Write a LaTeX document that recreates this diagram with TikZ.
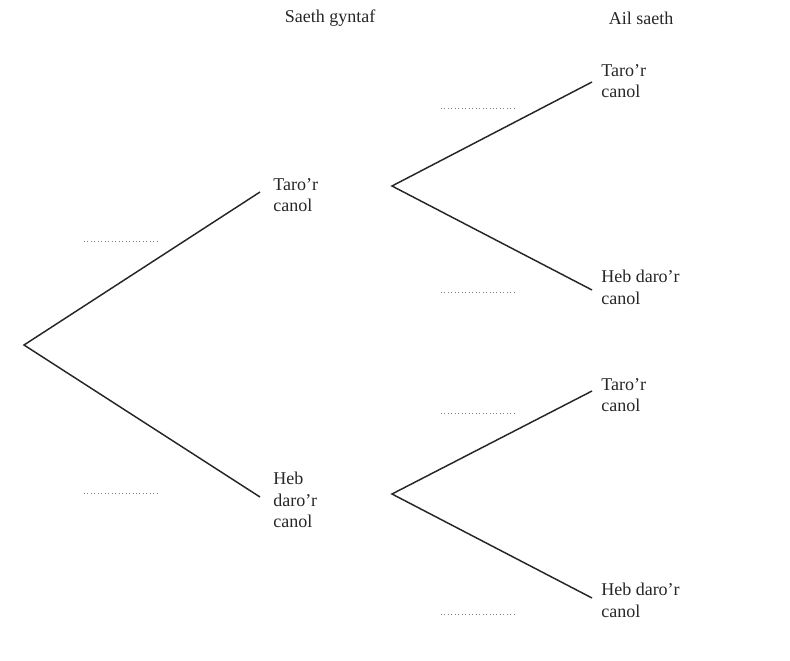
\documentclass[tikz,border=0pt]{standalone}
\usepackage{fontspec}
\setmainfont{Liberation Serif}
\begin{document}
\begin{tikzpicture}[x=0.75pt,y=-0.75pt,
  br/.style={line width=1.1pt,black!85},
  dots/.style={dotted,line width=0.6pt,gray},
  lab/.style={anchor=north west,inner sep=0pt,align=left,font=\fontsize{13.5}{16}\selectfont,text=black!85}]
\useasboundingbox (0,0) rectangle (790,661);
\coordinate (r) at (24,345);
\coordinate (a) at (260,192);
\coordinate (b) at (260,497);
\coordinate (a0) at (392,186);
\coordinate (b0) at (392,494);
\coordinate (a1) at (592,82);
\coordinate (a2) at (592,290);
\coordinate (b1) at (592,391);
\coordinate (b2) at (592,598);
\draw[br] (a) -- (r) -- (b);
\draw[br] (a1) -- (a0) -- (a2);
\draw[br] (b1) -- (b0) -- (b2);
\foreach \x/\y [count=\i] in {84/241,84/493,441/108,441/292,441/413,441/614}{
  \coordinate (d\i s) at (\x,\y); \coordinate (d\i e) at (\x+76,\y);
  \draw[dots] (d\i s) -- (d\i e);}
\node[lab,anchor=center] (h1) at (330,18) {Saeth gyntaf};
\node[lab,anchor=center] (h2) at (641,18) {Ail saeth};
\node[lab] (t1) at (273,178) {Taro’r\\canol};
\node[lab] (t2) at (273,472) {Heb\\daro’r\\canol};
\node[lab] (t3) at (601,64) {Taro’r\\canol};
\node[lab] (t4) at (601,270) {Heb daro’r\\canol};
\node[lab] (t5) at (601,378) {Taro’r\\canol};
\node[lab] (t6) at (601,583) {Heb daro’r\\canol};
\end{tikzpicture}
\end{document}
